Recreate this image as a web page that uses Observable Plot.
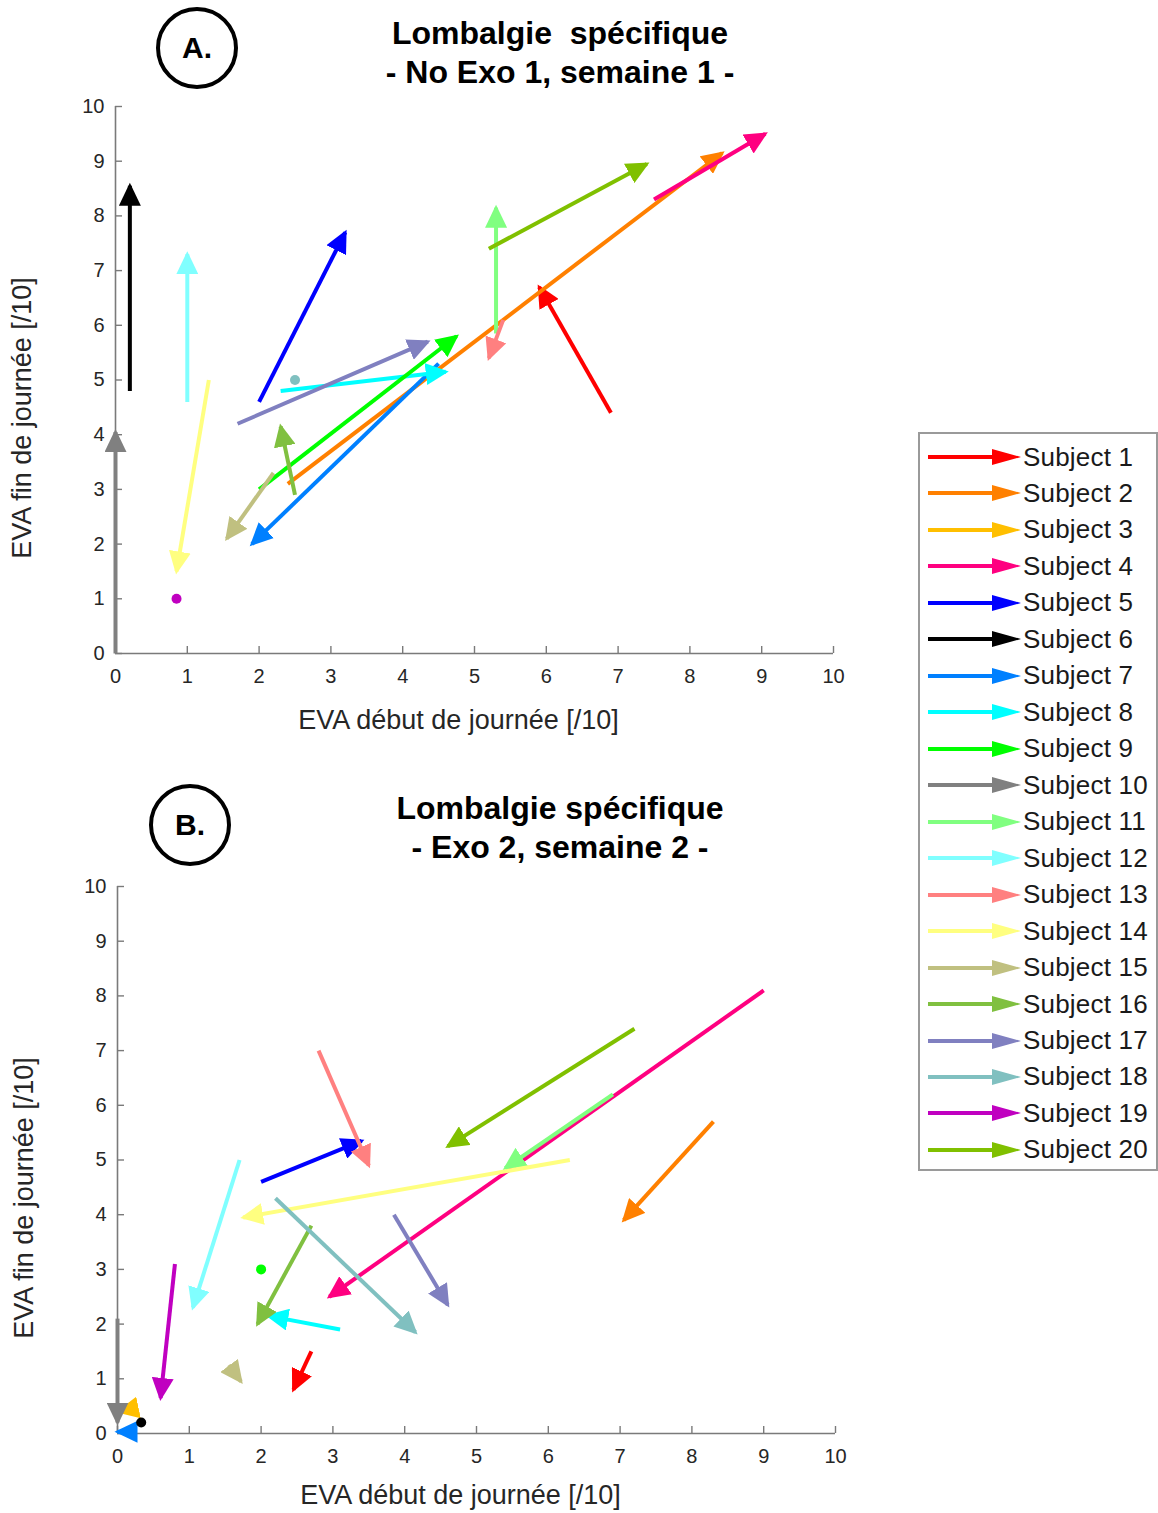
<!DOCTYPE html>
<html><head><meta charset="utf-8">
<script src="https://cdn.jsdelivr.net/npm/d3@7"></script>
<script src="https://cdn.jsdelivr.net/npm/@observablehq/plot@0.6"></script>
<style>
body{margin:0;background:#fff;}
#root{position:relative;width:1158px;height:1513px;overflow:hidden;font-family:"Liberation Sans",Arial,sans-serif;background:#fff;color:#000;}
.title{position:absolute;text-align:center;font-weight:bold;font-size:32px;line-height:39px;width:600px;}
.badge{position:absolute;box-sizing:border-box;width:82px;height:82px;border:4px solid #000;border-radius:50%;display:flex;align-items:center;justify-content:center;font-weight:bold;font-size:30px;}
.panel{position:absolute;left:0;}
#legend{position:absolute;left:918px;top:432px;width:240px;height:739px;border:2px solid #9a9a9a;box-sizing:border-box;background:#fff;}
.lrow{position:absolute;left:8px;height:30px;display:flex;align-items:center;}
.lrow span{font-size:26px;color:#1a1a1a;margin-left:1px;white-space:nowrap;letter-spacing:0.2px;}
</style></head>
<body>
<div id="root">
  <div class="badge" style="left:156px;top:7px;">A.</div>
  <div class="title" style="left:260px;top:14px;">Lombalgie&nbsp; spécifique<br>- No Exo 1, semaine 1 -</div>
  <div class="badge" style="left:149px;top:784px;">B.</div>
  <div class="title" style="left:260px;top:789px;">Lombalgie spécifique<br>- Exo 2, semaine 2 -</div>
  <div id="panelA" class="panel" style="top:90px;"></div>
  <div id="panelB" class="panel" style="top:870px;"></div>
  <div id="legend"></div>
</div>
<script>
// ---------- data ----------
const subjects = ["Subject 1","Subject 2","Subject 3","Subject 4","Subject 5","Subject 6","Subject 7","Subject 8","Subject 9","Subject 10",
  "Subject 11","Subject 12","Subject 13","Subject 14","Subject 15","Subject 16","Subject 17","Subject 18","Subject 19","Subject 20"];
const colors = ["#ff0000","#ff8000","#ffbf00","#ff0080","#0000ff","#000000","#0080ff","#00ffff","#00ff00","#808080",
  "#80ff80","#80ffff","#ff8080","#ffff80","#c0c080","#80c040","#8080c0","#80c0c0","#c000c0","#80c000"];
const tickValues = [0,1,2,3,4,5,6,7,8,9,10];
const xLabel = "EVA début de journée [/10]";
const yLabel = "EVA fin de journée [/10]";

// Panel A : No Exo 1, semaine 1 (start = début, end = fin)
const startA_x = [6.9, 2.4, null, 7.5, 2.0, 0.2, 4.5, 2.3, 2.0, 0,    5.3, 1.0, 5.4, 1.3, 2.2, 2.5, 1.7, 2.5, 0.85, 5.2];
const startA_y = [4.4, 3.1, null, 8.3, 4.6, 4.8, 5.3, 4.8, 3.0, 0,    5.85,4.6, 6.1, 5.0, 3.3, 2.9, 4.2, 5.0, 1.0,  7.4];
const endA_x   = [5.9, 8.45,null, 9.05,3.2, 0.2, 1.9, 4.6, 4.75,0,    5.3, 1.0, 5.2, 0.85,1.55,2.3, 4.35,2.5, 0.85, 7.4];
const endA_y   = [6.7, 9.15,null, 9.5, 7.7, 8.55,2.0, 5.15,5.8, 4.05, 8.15,7.3, 5.4, 1.5, 2.1, 4.15,5.7, 5.0, 1.0,  8.95];

// Panel B : Exo 2, semaine 2
const startB_x = [2.7, 8.3, 0.2, 9.0, 2.0, 0.33,0.2, 3.1, 2.0, 0,   6.9, 1.7, 2.8, 6.3, 1.55,2.7, 3.85,2.2, 0.8, 7.2];
const startB_y = [1.5, 5.7, 0.45,8.1, 4.6, 0.2, 0.03,1.9, 3.0, 2.1, 6.2, 5.0, 7.0, 5.0, 1.25,3.8, 4.0, 4.3, 3.1, 7.4];
const endB_x   = [2.45,7.05,0.02,2.95,3.4, 0.33,0.0, 2.1, 2.0, 0,   5.4, 1.05,3.5, 1.75,1.72,1.95,4.6, 4.15,0.6, 4.6];
const endB_y   = [0.8, 3.9, 0.4, 2.5, 5.35,0.2, 0.03,2.15,3.0, 0.2, 4.85,2.3, 4.9, 3.95,0.95,2.0, 2.35,1.85,0.65,5.25];

// ---------- helpers ----------
const axisColor = "#7a7a7a";
function buildRows(sx, sy, ex, ey) {
  return subjects.map((s, i) => ({subject: s, color: colors[i], x1: sx[i], y1: sy[i], x2: ex[i], y2: ey[i]}))
    .filter(d => d.x1 != null);
}
function filledHead(len, wid, ahead) {
  return (color) => {
    const m = d3.create("svg:marker")
      .attr("viewBox", `${-len} ${-wid / 2} ${len + 1} ${wid}`)
      .attr("markerWidth", len + 1).attr("markerHeight", wid)
      .attr("markerUnits", "userSpaceOnUse")
      .attr("orient", "auto")
      .attr("refX", -ahead).attr("refY", 0)
      .attr("fill", color).attr("stroke", "none");
    m.append("path").attr("d", `M${-len},${-wid / 2}L0,0L${-len},${wid / 2}Z`);
    return m.node();
  };
}
function panel(rows, {marginLeft, marginRight, xLabelDy}) {
  const W = 900, H = 641, mt = 16, mb = 78;
  const pw = W - marginLeft - marginRight, ph = H - mt - mb;
  const arrows = rows.filter(d => d.x1 !== d.x2 || d.y1 !== d.y2);
  const dots = rows.filter(d => d.x1 === d.x2 && d.y1 === d.y2);
  return Plot.plot({
    width: W, height: H, marginTop: mt, marginBottom: mb, marginLeft, marginRight,
    x: {domain: [0, 10]}, y: {domain: [0, 10]},
    color: {type: "identity"},
    style: {fontFamily: "Liberation Sans, Arial, sans-serif", fontSize: "20px", color: "#262626", background: "transparent", overflow: "visible"},
    marks: [
      Plot.ruleX(tickValues, {x: d => d, insetTop: ph - 7, stroke: axisColor, strokeWidth: 1.4}),
      Plot.ruleY(tickValues, {y: d => d, insetRight: pw - 7, stroke: axisColor, strokeWidth: 1.4}),
      Plot.ruleX([0], {stroke: axisColor, strokeWidth: 1.6}),
      Plot.ruleY([0], {stroke: axisColor, strokeWidth: 1.6}),
      Plot.axisX({ticks: tickValues, tickSize: 0, tickPadding: 15, tickFormat: d => `${d}`, label: null}),
      Plot.axisY({ticks: tickValues, tickSize: 0, tickPadding: 11, tickFormat: d => `${d}`, label: null}),
      Plot.text([xLabel], {frameAnchor: "bottom", textAnchor: "middle", dx: -16, dy: xLabelDy, lineAnchor: "middle", fontSize: 27, fill: "#262626"}),
      Plot.text([yLabel], {frameAnchor: "left", textAnchor: "middle", dx: -93, dy: 38, rotate: -90, lineAnchor: "middle", fontSize: 27, fill: "#262626"}),
      Plot.link(arrows, {x1: "x1", y1: "y1", x2: "x2", y2: "y2", stroke: "color", strokeWidth: 4, markerEnd: filledHead(23, 22, 3)}),
      Plot.dot(dots, {x: "x1", y: "y1", fill: "color", r: 5})
    ]
  });
}

document.getElementById("panelA").append(panel(buildRows(startA_x, startA_y, endA_x, endA_y), {marginLeft: 115, marginRight: 67, xLabelDy: 67}));
document.getElementById("panelB").append(panel(buildRows(startB_x, startB_y, endB_x, endB_y), {marginLeft: 117, marginRight: 65, xLabelDy: 62}));

// ---------- legend ----------
const legend = d3.select("#legend");
subjects.forEach((s, i) => {
  const row = legend.append("div").attr("class", "lrow").style("top", `${8 + i * 36.47}px`);
  const svg = row.append("svg").attr("width", 94).attr("height", 30);
  svg.append("line").attr("x1", 0).attr("x2", 70).attr("y1", 15).attr("y2", 15).attr("stroke", colors[i]).attr("stroke-width", 4);
  svg.append("path").attr("d", "M64,7L93,15L64,23Z").attr("fill", colors[i]);
  row.append("span").text(s);
});
</script>
</body></html>
